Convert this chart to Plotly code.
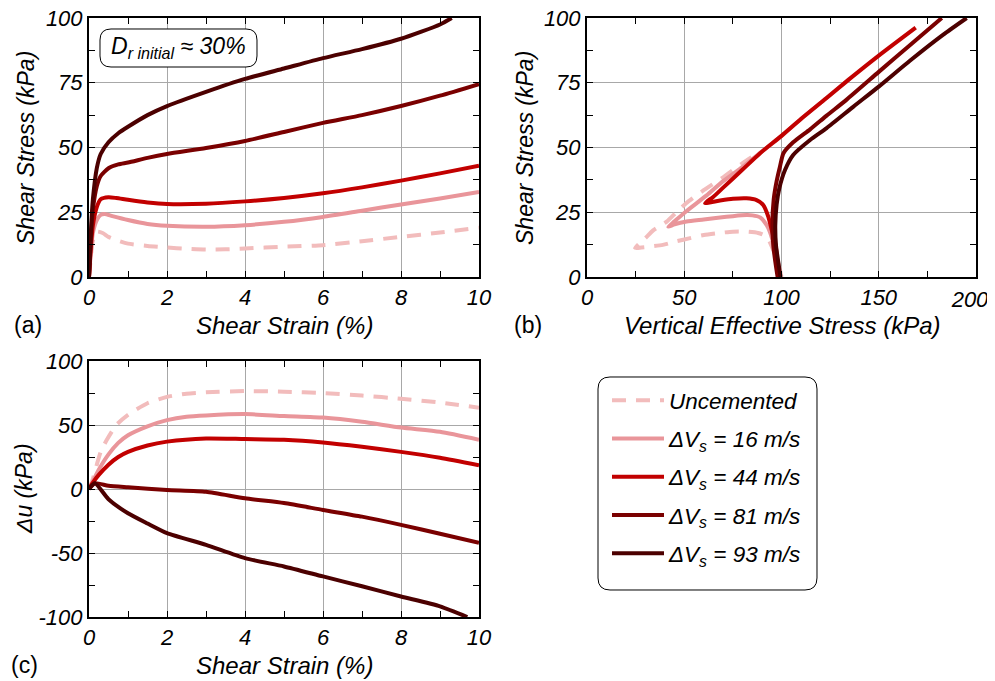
import plotly.graph_objects as go

# ---------------- DATA ----------------
series_names = ["Uncemented", "ΔV<sub>s</sub> = 16 m/s", "ΔV<sub>s</sub> = 44 m/s",
                "ΔV<sub>s</sub> = 81 m/s", "ΔV<sub>s</sub> = 93 m/s"]
series_colors = ["#f2bcbc", "#e9959a", "#c20000", "#7a0000", "#4c0000"]
series_dash = ["14px,10px", "solid", "solid", "solid", "solid"]

# (a) shear stress vs shear strain
a_strain_unc = [0, 0.05, 0.1, 0.2, 0.35, 0.5, 0.75, 1, 1.5, 2, 2.5, 3, 3.5, 4, 5, 6, 7, 8, 9, 10]
a_tau_unc = [0, 8, 14, 17.5, 17, 15.5, 14, 12.9, 12, 11.4, 10.9, 10.6, 10.7, 11, 11.7, 12.3, 13.8, 15.5, 17.2, 19]
a_strain_16 = [0, 0.05, 0.1, 0.2, 0.3, 0.4, 0.6, 1, 1.5, 2, 3, 4, 5, 6, 7, 8, 9, 10]
a_tau_16 = [0, 10, 17, 22, 24, 24.3, 23.5, 22, 20.5, 19.8, 19.4, 20, 21.3, 23.2, 25.6, 28, 30.3, 32.8]
a_strain_44 = [0, 0.05, 0.1, 0.2, 0.3, 0.5, 0.7, 1, 1.5, 2, 3, 4, 5, 6, 7, 8, 9, 10]
a_tau_44 = [0, 12, 20, 27, 30, 30.8, 30.5, 29.8, 28.8, 28.2, 28.3, 29.2, 30.5, 32.3, 34.6, 37.2, 40, 43]
a_strain_81 = [0, 0.05, 0.1, 0.2, 0.3, 0.5, 0.75, 1, 1.5, 2, 3, 4, 5, 6, 7, 8, 9, 10]
a_tau_81 = [0, 15, 26, 35, 39, 42, 43.5, 44.2, 46, 47.5, 49.8, 52.5, 56, 59.5, 62.5, 66, 70, 74.5]
a_strain_93 = [0, 0.05, 0.1, 0.2, 0.3, 0.5, 0.75, 1, 1.5, 2, 3, 4, 5, 6, 7, 8, 9, 9.3]
a_tau_93 = [0, 18, 30, 42, 47.5, 52, 55.5, 58, 62.5, 66, 71.5, 76.5, 80.5, 84.5, 88, 92, 97.5, 100]

# (b) shear stress vs vertical effective stress
b_sig_unc = [100, 98.5, 96.5, 94, 92.4, 88, 82, 75, 68, 60, 53, 46, 39, 33, 28, 24.7,
             27, 30, 34, 41, 46, 51, 60, 70, 80, 86]
b_tau_unc = [0, 5, 9, 13.5, 15.6, 17, 17.5, 17.5, 17, 16.2, 15, 13.8, 12.4, 11.8, 11.4, 11.2,
             13, 15, 18, 21.4, 25, 28.5, 33.5, 38.5, 44, 47]
b_sig_16 = [98.5, 98, 97, 95.5, 94, 92.4, 89, 85, 82, 75, 68.4, 60, 51.2, 45, 41.8,
            45, 51.2, 61.5, 70, 80, 90, 100, 110, 123, 135]
b_tau_16 = [0, 5, 10, 14, 17.5, 20, 23, 23.8, 23.9, 23.5, 23, 22.2, 21.4, 20.3, 19.4,
            21.5, 25.5, 31.5, 37, 42.5, 48.5, 54.5, 61, 69, 76.5]
b_sig_44 = [98.5, 98, 97, 95, 93.2, 90.6, 87.2, 82, 75, 68.4, 63, 60.7,
            65, 70, 80, 89, 100, 110, 123, 135, 150, 169]
b_tau_44 = [0, 5, 12, 18.1, 23.3, 27.8, 29.7, 30.4, 30.2, 29.5, 28.8, 28.5,
            31, 34.5, 41.5, 47.8, 54.5, 61, 69, 76.5, 85.5, 96.3]
b_sig_81 = [98, 96.8, 95.8, 95.3, 96, 97.5, 99.2, 101, 106, 114.7, 123.2, 133.5, 150, 166, 182.4]
b_tau_81 = [0, 6, 12, 20, 30, 37, 42.6, 47.8, 52, 57, 62.3, 68.5, 79.2, 89.5, 100]
b_sig_93 = [99.5, 98.3, 97.2, 96.8, 97.5, 98.8, 101.8, 106, 114.7, 123.2, 137, 150, 166, 183, 195.2]
b_tau_93 = [0, 6, 12, 20, 28, 34, 41.3, 47.1, 52.9, 57.5, 65.8, 73.5, 83.5, 93.5, 100]

# (c) excess pore pressure vs shear strain
c_strain_unc = [0, 0.1, 0.2, 0.3, 0.45, 0.7, 1, 1.5, 2, 2.5, 3, 4, 5, 6, 7, 8, 9, 10]
c_du_unc = [0, 8, 19, 29, 38, 50, 58, 67, 72, 74.5, 75.5, 76.5, 76, 75, 73, 70.5, 67.5, 63.5]
c_strain_16 = [0, 0.1, 0.25, 0.5, 0.75, 1, 1.5, 2, 2.5, 3, 4, 5, 6, 7, 8, 9, 10]
c_du_16 = [0, 6, 15, 27, 36, 42, 49, 53.8, 56.5, 57.5, 58.5, 57, 55.8, 52.5, 48, 44.7, 38.5]
c_strain_44 = [0, 0.1, 0.25, 0.5, 0.75, 1, 1.5, 2, 3, 4, 5, 6, 7, 8, 9, 10]
c_du_44 = [0, 5, 11, 19, 25, 29, 34, 37, 39.5, 39, 38.5, 36.4, 33, 29, 24.4, 18.5]
c_strain_81 = [0, 0.15, 0.5, 1, 2, 3, 4, 5, 6, 7, 8, 9, 10]
c_du_81 = [0, 4.5, 2.5, 1.3, -0.8, -2.2, -7.3, -11, -16.4, -21.6, -28, -35, -42]
c_strain_93 = [0, 0.15, 0.5, 1, 1.5, 2, 3, 4, 5, 6, 7, 8, 9, 9.7]
c_du_93 = [0, 4.5, -8, -19, -27, -34.5, -43.6, -54, -60.5, -68.3, -76, -84, -91.7, -100]

# tick labels
ticks_strain = [0, 2, 4, 6, 8, 10]
ticks_tau = [0, 25, 50, 75, 100]
ticks_sig = [0, 50, 100, 150]
ticks_sig_end = [200]
ticks_du = [-100, -50, 0, 50, 100]

a_x = [a_strain_unc, a_strain_16, a_strain_44, a_strain_81, a_strain_93]
a_y = [a_tau_unc, a_tau_16, a_tau_44, a_tau_81, a_tau_93]
b_x = [b_sig_unc, b_sig_16, b_sig_44, b_sig_81, b_sig_93]
b_y = [b_tau_unc, b_tau_16, b_tau_44, b_tau_81, b_tau_93]
c_x = [c_strain_unc, c_strain_16, c_strain_44, c_strain_81, c_strain_93]
c_y = [c_du_unc, c_du_16, c_du_44, c_du_81, c_du_93]

# ---------------- LAYOUT HELPERS ----------------
OFF = 8  # page offset of the plot div (browser body margin)
W, H = 995 - 2 * OFF, 681 - OFF
FONT = "Liberation Sans, Arial, Helvetica, sans-serif"


def px(x):
    return (x - OFF) / W


def py(y):
    return 1 - (y - OFF) / H


def rounded_rect(x0, y0, x1, y1, r):
    def P(x, y):
        return f"{px(x):.5f},{py(y):.5f}"
    return (f"M {P(x0 + r, y0)} L {P(x1 - r, y0)} Q {P(x1, y0)} {P(x1, y0 + r)} "
            f"L {P(x1, y1 - r)} Q {P(x1, y1)} {P(x1 - r, y1)} "
            f"L {P(x0 + r, y1)} Q {P(x0, y1)} {P(x0, y1 - r)} "
            f"L {P(x0, y0 + r)} Q {P(x0, y0)} {P(x0 + r, y0)} Z")


fig = go.Figure()

panels = [("x", "y", a_x, a_y), ("x2", "y2", b_x, b_y), ("x3", "y3", c_x, c_y)]
for pi, (xa, ya, xs, ys) in enumerate(panels):
    for i in range(5):
        fig.add_trace(go.Scatter(
            x=xs[i], y=ys[i], xaxis=xa, yaxis=ya, mode="lines",
            name=series_names[i], legendgroup=f"g{i}", showlegend=(pi == 0),
            line=dict(color=series_colors[i], width=4, dash=series_dash[i], shape="spline",
                      smoothing=0.6),
        ))
# empty helper trace so the overlay axis carrying the last (edge) tick label is drawn
fig.add_trace(go.Scatter(x=[], y=[], xaxis="x4", yaxis="y2", showlegend=False,
                         hoverinfo="skip"))

tick_font = dict(family=FONT, size=22, color="black")


def axis(domain, rng, tickvals, minor, anchor):
    return dict(
        domain=domain, range=rng, anchor=anchor, automargin=False,
        tickmode="array", tickvals=tickvals, ticktext=[f"<i>{v}</i>" for v in tickvals],
        ticklabeloverflow="allow",
        showline=True, linewidth=2, linecolor="black", mirror="allticks",
        ticks="inside", ticklen=6, tickwidth=1, tickcolor="black",
        minor=dict(dtick=minor, tick0=0, ticks="inside", ticklen=6, tickwidth=1,
                   tickcolor="black", showgrid=False),
        showgrid=True, gridcolor="#a8a8a8", gridwidth=1,
        zeroline=False, tickfont=tick_font, fixedrange=True,
    )


x2 = axis([px(587), px(976)], [0, 200], ticks_sig, 25, "y2")
x2["tickvals"] = ticks_sig + ticks_sig_end
x2["ticktext"] = [f"<i>{v}</i>" for v in ticks_sig] + [""]

x4 = dict(domain=[px(587), px(976)], range=[0, 200], anchor="y2", overlaying="x2",
          side="bottom", automargin=False, tickmode="array", tickvals=ticks_sig_end,
          ticktext=[f"<i>{v}</i>" for v in ticks_sig_end], ticklabelshift=-6,
          ticklabelstandoff=7,
          ticklabeloverflow="allow", showline=False, showgrid=False, zeroline=False,
          ticks="", tickfont=tick_font, fixedrange=True)

fig.update_layout(
    width=W, height=H,
    margin=dict(l=0, r=0, t=0, b=0, pad=0),
    paper_bgcolor="white", plot_bgcolor="white",
    font=dict(family=FONT, color="black"),
    xaxis=axis([px(89), px(479)], [0, 10], ticks_strain, 1, "y"),
    yaxis=axis([py(277), py(18)], [0, 100], ticks_tau, 12.5, "x"),
    xaxis2=x2,
    yaxis2=axis([py(277), py(18)], [0, 100], ticks_tau, 12.5, "x2"),
    xaxis3=axis([px(89), px(479)], [0, 10], ticks_strain, 1, "y3"),
    yaxis3=axis([py(617), py(361)], [-100, 100], ticks_du, 25, "x3"),
    xaxis4=x4,
    legend=dict(
        x=px(607), y=py(379), xanchor="left", yanchor="top",
        bgcolor="rgba(0,0,0,0)", borderwidth=0,
        font=dict(family=FONT, size=22.5, color="black", style="italic"),
        itemwidth=52, tracegroupgap=6,
    ),
    showlegend=True,
)

title_font = dict(family=FONT, size=24, color="black", style="italic")
vtitle_font = dict(family=FONT, size=23, color="black", style="italic")
label_font = dict(family=FONT, size=23, color="black")

annotations = [
    dict(text="Shear Strain (%)", x=px(284), y=py(325), font=title_font),
    dict(text="Vertical Effective Stress (kPa)", x=px(782), y=py(325), font=title_font),
    dict(text="Shear Strain (%)", x=px(284), y=py(665), font=title_font),
    dict(text="Shear Stress (kPa)", x=px(26), y=py(148), font=vtitle_font, textangle=-90),
    dict(text="Shear Stress (kPa)", x=px(525), y=py(148), font=vtitle_font, textangle=-90),
    dict(text="Δu (kPa)", x=px(24), y=py(489), font=vtitle_font, textangle=-90),
    dict(text="(a)", x=px(28), y=py(325), font=label_font),
    dict(text="(b)", x=px(528), y=py(325), font=label_font),
    dict(text="(c)", x=px(24), y=py(665), font=label_font),
    dict(text="D<sub>r initial</sub> ≈ 30%", x=px(178), y=py(47), font=vtitle_font),
]
for a in annotations:
    a.update(xref="paper", yref="paper", showarrow=False, xanchor="center", yanchor="middle")
fig.update_layout(annotations=annotations)

fig.update_layout(shapes=[
    dict(type="path", xref="paper", yref="paper", path=rounded_rect(100, 29, 257, 67, 11),
         line=dict(color="black", width=1), fillcolor="white", layer="above"),
    dict(type="path", xref="paper", yref="paper", path=rounded_rect(598, 377, 817, 590, 12),
         line=dict(color="black", width=1), fillcolor="rgba(0,0,0,0)", layer="above"),
])

fig.write_html("out.html")
